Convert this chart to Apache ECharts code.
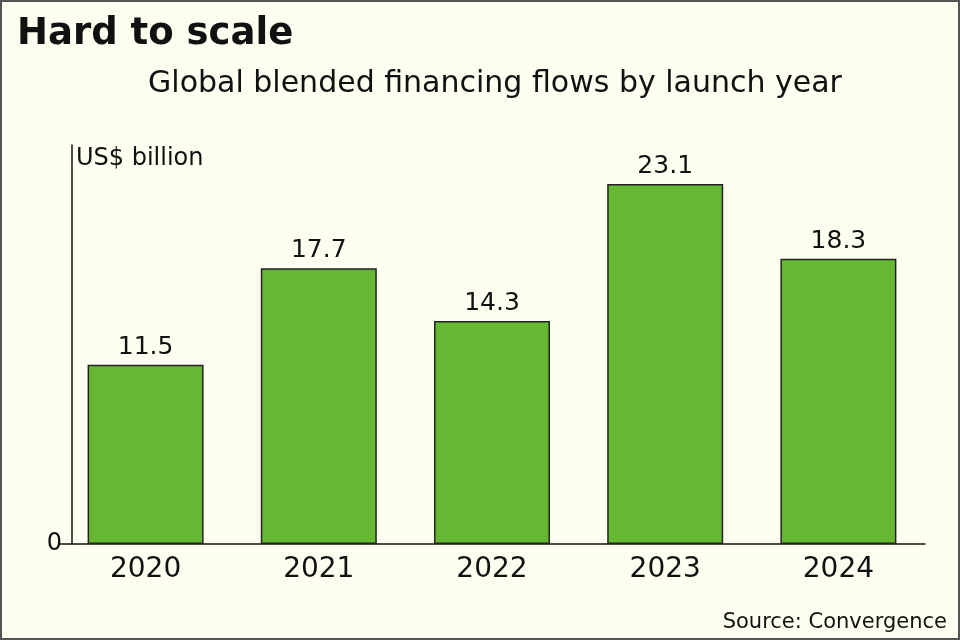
<!DOCTYPE html>
<html>
<head>
<meta charset="utf-8">
<script src="https://cdn.jsdelivr.net/npm/echarts@6/dist/echarts.min.js"></script>
<style>
  html, body { margin: 0; padding: 0; background: #fefef0; }
  #main { width: 960px; height: 640px; box-sizing: border-box; border: 2px solid #555; }
</style>
</head>
<body>
<div id="main"></div>
<script>
var chartDom = document.getElementById('main');
var myChart = echarts.init(chartDom);
var option;

var years = ['2020', '2021', '2022', '2023', '2024'];
var flows = [11.5, 17.7, 14.3, 23.1, 18.3];
var yTicks = [0];

var font = 'DejaVu Sans';

option = {
  backgroundColor: '#fefef0',
  textStyle: { fontFamily: font, color: '#111' },
  title: [
    {
      text: 'Hard to scale',
      left: 10,
      top: 9,
      textStyle: { fontSize: 37, fontWeight: 'bold', color: '#111', fontFamily: font }
    },
    {
      text: 'Global blended financing flows by launch year',
      left: 488,
      textAlign: 'center',
      top: 62,
      textStyle: { fontSize: 30, fontWeight: 'normal', color: '#111', fontFamily: font }
    },
    {
      text: 'Source: Convergence',
      right: 6,
      top: 605,
      textStyle: { fontSize: 21, fontWeight: 'normal', color: '#111', fontFamily: font }
    }
  ],
  grid: { left: 57, right: 33, top: 143, bottom: 94 },
  xAxis: {
    type: 'category',
    data: years,
    axisLine: { lineStyle: { color: '#111', width: 1.5 } },
    axisTick: { show: false },
    axisLabel: { fontSize: 28, color: '#111', margin: 12, fontFamily: font }
  },
  yAxis: {
    type: 'value',
    min: 0,
    max: 25.6,
    offset: -13,
    name: 'US$ billion',
    nameLocation: 'end',
    nameGap: -26,
    nameTextStyle: { fontSize: 24, color: '#111', align: 'left', padding: [0, 0, 0, 4], fontFamily: font },
    axisLine: { show: true, lineStyle: { color: '#111', width: 1.5 } },
    axisTick: { show: false },
    splitLine: { show: false },
    axisLabel: {
      fontSize: 24,
      color: '#111',
      margin: 10,
      fontFamily: font,
      customValues: yTicks
    }
  },
  series: [
    {
      type: 'bar',
      data: flows,
      barWidth: 116,
      itemStyle: { color: '#66b832', borderColor: '#222', borderWidth: 1.5 },
      label: {
        show: true,
        position: 'top',
        distance: 5,
        fontSize: 25,
        color: '#111',
        fontFamily: font,
        formatter: function (p) { return p.value.toFixed(1); }
      }
    }
  ]
};

option && myChart.setOption(option);
</script>
</body>
</html>
